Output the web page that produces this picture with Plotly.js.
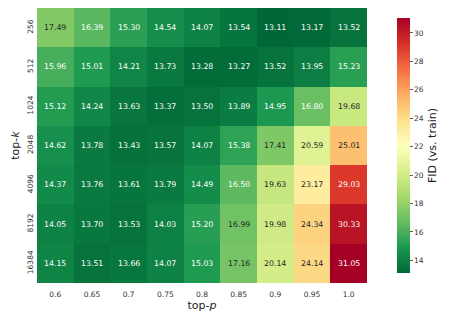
<!DOCTYPE html>
<html>
<head>
<meta charset="utf-8">
<script src="https://cdn.plot.ly/plotly-3.0.1.min.js"></script>
<style>
  html, body { margin: 0; padding: 0; background: #fff; }
  #plotDiv { width: 457px; height: 320px; }
</style>
</head>
<body>
<div id="plotDiv"></div>
<script>
// top-p along x, top-k along y
var topP = ['0.6', '0.65', '0.7', '0.75', '0.8', '0.85', '0.9', '0.95', '1.0'];
var topK = ['256', '512', '1024', '2048', '4096', '8192', '16384'];

var fid256   = [17.49, 16.39, 15.30, 14.54, 14.07, 13.54, 13.11, 13.17, 13.52];
var fid512   = [15.96, 15.01, 14.21, 13.73, 13.28, 13.27, 13.52, 13.95, 15.23];
var fid1024  = [15.12, 14.24, 13.63, 13.37, 13.50, 13.89, 14.95, 16.80, 19.68];
var fid2048  = [14.62, 13.78, 13.43, 13.57, 14.07, 15.38, 17.41, 20.59, 25.01];
var fid4096  = [14.37, 13.76, 13.61, 13.79, 14.49, 16.50, 19.63, 23.17, 29.03];
var fid8192  = [14.05, 13.70, 13.53, 14.03, 15.20, 16.99, 19.98, 24.34, 30.33];
var fid16384 = [14.15, 13.51, 13.66, 14.07, 15.03, 17.16, 20.14, 24.14, 31.05];

var z = [fid256, fid512, fid1024, fid2048, fid4096, fid8192, fid16384];

// matplotlib RdYlGn, reversed (green = low FID)
var rdylgn = ['#006837', '#1a9850', '#66bd63', '#a6d96a', '#d9ef8b', '#ffffbf',
              '#fee08b', '#fdae61', '#f46d43', '#d73027', '#a50026'];
var colorscale = rdylgn.map(function (c, i) { return [i / (rdylgn.length - 1), c]; });

var heat = {
  type: 'heatmap',
  x: topP,
  y: topK,
  z: z,
  colorscale: colorscale,
  hoverinfo: 'none',
  xgap: 0,
  ygap: 0,
  colorbar: {
    x: 1.06,
    xanchor: 'left',
    y: 0.5,
    yanchor: 'middle',
    len: 1,
    lenmode: 'fraction',
    thickness: 13,
    outlinewidth: 0,
    ticks: 'outside',
    ticklen: 3,
    tickwidth: 0.8,
    tickcolor: '#333',
    tickvals: [14, 16, 18, 20, 22, 24, 26, 28, 30],
    tickfont: { family: 'DejaVu Sans', size: 7.5, color: '#333' },
    title: {
      text: 'FID (vs. train)',
      side: 'right',
      font: { family: 'DejaVu Sans', size: 11, color: '#222' }
    }
  }
};

// cell labels (category index positions), dark text on light cells
var annotations = [];
for (var r = 0; r < topK.length; r++) {
  for (var c = 0; c < topP.length; c++) {
    var v = z[r][c];
    var dark = v > 16.9 && v < 28.5;
    annotations.push({
      x: c,
      y: r,
      text: v.toFixed(2),
      showarrow: false,
      font: { family: 'DejaVu Sans', size: 7.8, color: dark ? '#262626' : '#ffffff' }
    });
  }
}

var layout = {
  width: 457,
  height: 320,
  margin: { l: 37, r: 90, t: 8, b: 37 },
  paper_bgcolor: '#fff',
  plot_bgcolor: '#fff',
  annotations: annotations,
  xaxis: {
    type: 'category',
    showgrid: false,
    zeroline: false,
    ticks: '',
    ticklabelstandoff: 5,
    tickfont: { family: 'DejaVu Sans', size: 7.5, color: '#333' },
    title: {
      text: 'top-<i>p</i>',
      standoff: 3,
      font: { family: 'DejaVu Sans', size: 11, color: '#222' }
    }
  },
  yaxis: {
    type: 'category',
    autorange: 'reversed',
    showgrid: false,
    zeroline: false,
    ticks: '',
    tickangle: -90,
    ticklabelstandoff: 2,
    tickfont: { family: 'DejaVu Sans', size: 7.5, color: '#333' },
    title: {
      text: 'top-<i>k</i>',
      standoff: 3,
      font: { family: 'DejaVu Sans', size: 11, color: '#222' }
    }
  }
};

Plotly.newPlot('plotDiv', [heat], layout, { displayModeBar: false, staticPlot: true });
</script>
</body>
</html>
